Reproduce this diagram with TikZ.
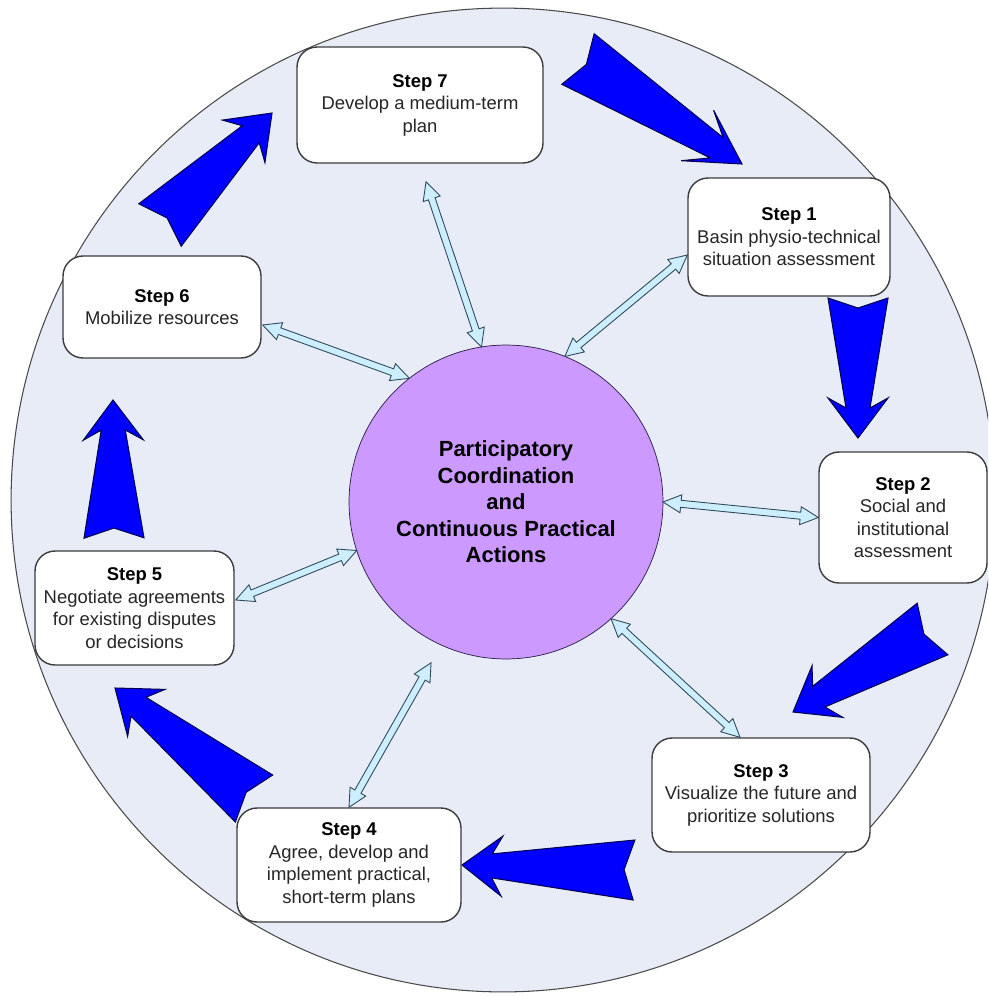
\documentclass[tikz,border=0pt]{standalone}
\usepackage{fontspec}
\setmainfont{Liberation Sans}
\usetikzlibrary{calc}
\definecolor{ringfill}{HTML}{E7ECF7}
\definecolor{ringline}{HTML}{4A4A4A}
\definecolor{hubfill}{HTML}{CC99FF}
\definecolor{hubline}{HTML}{2A1A4A}
\definecolor{boxline}{HTML}{3C3C3C}
\definecolor{boxtext}{HTML}{262626}
\definecolor{flowfill}{HTML}{0000FF}
\definecolor{flowline}{HTML}{000050}
\definecolor{linkfill}{HTML}{CCEEFF}
\definecolor{linkline}{HTML}{2F4A5A}
\tikzstyle{ring}      = [circle, draw=ringline, fill=ringfill, minimum size=19.68cm, inner sep=0pt, line width=0.6pt]
\tikzstyle{hub}       = [circle, draw=hubline, fill=hubfill, minimum size=6.28cm, inner sep=0pt, outer sep=0pt, align=center, text=black, font=\bfseries\fontsize{12.5}{15.1}\selectfont]
\tikzstyle{stepbox}   = [rectangle, draw=boxline, fill=white, rounded corners=0.4cm, align=center, text=boxtext, line width=0.8pt, inner sep=2pt, font=\fontsize{10.5}{12.8}\selectfont]
\tikzstyle{flowarrow} = [draw=flowline, fill=flowfill, line width=0.6pt]
\tikzstyle{linkarrow} = [draw=linkline, fill=linkfill, line width=0.5pt]
% big blue arrow from tail #2 to tip #3, #1 = barb distance from tip
\newcommand{\flowarrow}[3][0.8cm]{%
  \path[flowarrow] ($(#2)!0.6cm!90:(#3)$) -- ($(#2)!0.2cm!(#3)$) -- ($(#2)!0.6cm!-90:(#3)$)
    -- ($(#3)!0.6cm!(#2)!0.24cm!90:(#2)$) -- ($(#3)!#1!(#2)!0.6cm!90:(#2)$) -- (#3)
    -- ($(#3)!#1!(#2)!0.6cm!-90:(#2)$) -- ($(#3)!0.6cm!(#2)!0.24cm!-90:(#2)$) -- cycle;}
% hollow double arrow
\newcommand{\linkarrow}[2]{%
  \path[linkarrow] (#1) -- ($(#1)!0.36cm!(#2)!0.18cm!90:(#2)$) -- ($(#1)!0.36cm!(#2)!0.07cm!90:(#2)$)
    -- ($(#2)!0.36cm!(#1)!0.07cm!-90:(#1)$) -- ($(#2)!0.36cm!(#1)!0.18cm!-90:(#1)$) -- (#2)
    -- ($(#2)!0.36cm!(#1)!0.18cm!90:(#1)$) -- ($(#2)!0.36cm!(#1)!0.07cm!90:(#1)$)
    -- ($(#1)!0.36cm!(#2)!0.07cm!-90:(#2)$) -- ($(#1)!0.36cm!(#2)!0.18cm!-90:(#2)$) -- cycle;}

\begin{document}
\begin{tikzpicture}[x=0.02cm, y=-0.02cm]
        \useasboundingbox (0,0) rectangle (988,997);
        \clip (0,0) rectangle (988,997);
        \node [ring] (basin) at (503,500) {};

        % cycle of steps
        \coordinate (flow1s) at (578,59);    \coordinate (flow1e) at (742,164);
        \coordinate (flow2s) at (858,298);   \coordinate (flow2e) at (858,438);
        \coordinate (flow3s) at (932.5,629); \coordinate (flow3e) at (793,712);
        \coordinate (flow4s) at (634,870);   \coordinate (flow4e) at (462,865);
        \coordinate (flow5s) at (254,798.5); \coordinate (flow5e) at (115,688);
        \coordinate (flow6s) at (114,538);   \coordinate (flow6e) at (113,400);
        \coordinate (flow7s) at (160,225);   \coordinate (flow7e) at (272,113);
        \flowarrow[1.06cm]{flow1s}{flow1e}
        \flowarrow{flow2s}{flow2e}
        \flowarrow{flow3s}{flow3e}
        \flowarrow{flow4s}{flow4e}
        \flowarrow{flow5s}{flow5e}
        \flowarrow{flow6s}{flow6e}
        \flowarrow{flow7s}{flow7e}

        \node [stepbox, minimum width=4.92cm, minimum height=2.32cm] (step7) at (420,105) {\textbf{\color{black}Step 7}\\Develop a medium-term\\plan};
        \node [stepbox, minimum width=4.04cm, minimum height=2.36cm] (step1) at (789,237) {\textbf{\color{black}Step 1}\\Basin physio-technical\\situation assessment};
        \node [stepbox, minimum width=3.36cm, minimum height=2.62cm] (step2) at (903,517.5) {\textbf{\color{black}Step 2}\\Social and\\institutional\\assessment};
        \node [stepbox, minimum width=4.36cm, minimum height=2.28cm] (step3) at (761,795) {\textbf{\color{black}Step 3}\\Visualize the future and\\prioritize solutions};
        \node [stepbox, minimum width=4.48cm, minimum height=2.28cm] (step4) at (349,865) {\textbf{\color{black}Step 4}\\Agree, develop and\\implement practical,\\short-term plans};
        \node [stepbox, minimum width=3.98cm, minimum height=2.28cm] (step5) at (134.5,608) {\textbf{\color{black}Step 5}\\Negotiate agreements\\for existing disputes\\or decisions};
        \node [stepbox, minimum width=3.96cm, minimum height=2.04cm] (step6) at (162,307) {\textbf{\color{black}Step 6}\\Mobilize resources};

        \node [hub] (hub) at (506,502) {Participatory\\Coordination\\and\\Continuous Practical\\Actions};

        % links to the centre
        \coordinate (l7) at ($(step7.south)+(6,18)$);
        \coordinate (l1) at ($(step1.west)+(0,18)$);
        \coordinate (l6) at ($(step6.east)+(1,18)$);
        \coordinate (l5) at ($(step5.east)+(1,-8)$);
        \coordinate (l3) at ($(step3.north)+(-21,0)$);
        \coordinate (l4) at ($(hub.center)!1.13!(hub.245)$);
        \linkarrow{l7}{hub.99}
        \linkarrow{l1}{hub.68}
        \linkarrow{l6}{hub.128}
        \linkarrow{step2.west}{hub.0}
        \linkarrow{l5}{hub.198}
        \linkarrow{l3}{hub.312}
        \linkarrow{step4.north}{l4}
      \end{tikzpicture}
\end{document}
